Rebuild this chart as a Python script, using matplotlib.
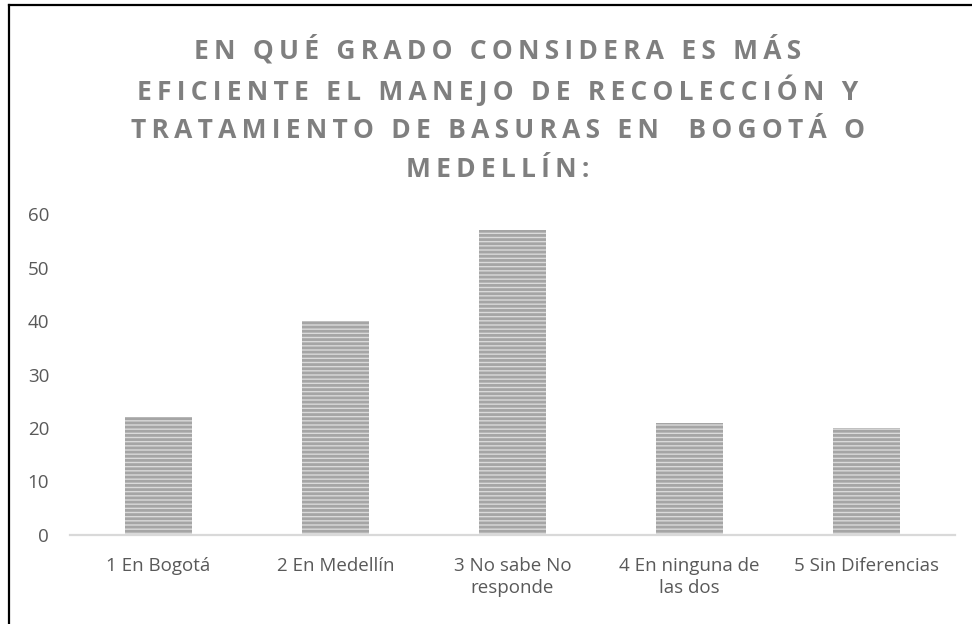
import matplotlib
matplotlib.use("Agg")
import matplotlib.pyplot as plt
from matplotlib.lines import Line2D

categories = ["1 En Bogotá", "2 En Medellín", "3 No sabe No\nresponde",
              "4 En ninguna de\nlas dos", "5 Sin Diferencias"]
values = [22, 40, 57, 21, 20]
yticks = [0, 10, 20, 30, 40, 50, 60]
title_lines = ["EN QUÉ GRADO CONSIDERA ES MÁS",
               "EFICIENTE EL MANEJO DE RECOLECCIÓN Y",
               "TRATAMIENTO DE BASURAS EN  BOGOTÁ O",
               "MEDELLÍN:"]

plt.rcParams["font.family"] = ["Open Sans", "DejaVu Sans"]
plt.rcParams["hatch.linewidth"] = 2.0


def spaced(s):
    # fake letter spacing with thin spaces
    return "\u2009".join(s)


fig = plt.figure(figsize=(9.72, 6.24), dpi=100)
ax = fig.add_axes([70 / 972, 89 / 624, 885 / 972, 321 / 624])

x = range(len(categories))
ax.bar(x, values, width=0.38, color="#dadada", edgecolor="#a5a5a5",
       linewidth=0, hatch="----", zorder=2)

ax.set_xlim(-0.5, len(categories) - 0.5)
ax.set_ylim(0, 60)
ax.set_yticks(yticks)
ax.set_xticks(list(x))
ax.set_xticklabels(categories, fontsize=13.5, color="#595959", linespacing=1.3)
ax.tick_params(axis="y", labelsize=13.5, labelcolor="#595959", length=0, pad=15)
ax.tick_params(axis="x", length=0, pad=16)

for s in ("top", "right", "left"):
    ax.spines[s].set_visible(False)
ax.spines["bottom"].set_color("#d9d9d9")
ax.spines["bottom"].set_linewidth(1.6)

for i, line in enumerate(title_lines):
    fig.text(0.512, 1 - (50 + 40 * i) / 624, spaced(line), ha="center", va="center",
             fontsize=19, fontweight="bold", color="#7f7f7f")

# black frame on the top and left edges
fig.add_artist(Line2D([8.5 / 972, 8.5 / 972], [0, 1 - 4.5 / 624], color="black",
                      linewidth=1.6, transform=fig.transFigure))
fig.add_artist(Line2D([8.5 / 972, 1], [1 - 4.5 / 624, 1 - 4.5 / 624], color="black",
                      linewidth=1.6, transform=fig.transFigure))

fig.savefig("out.png", dpi=100, facecolor="white")
